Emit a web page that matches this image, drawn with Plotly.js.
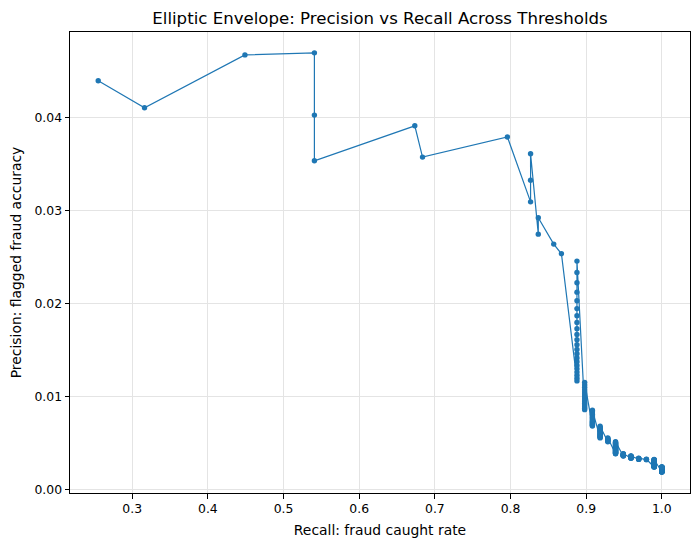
<!DOCTYPE html>
<html>
<head>
<meta charset="utf-8">
<script src="https://cdn.plot.ly/plotly-3.0.1.min.js"></script>
<style>
  html, body { margin: 0; padding: 0; background: #ffffff; }
  #chart { width: 700px; height: 547px; }
</style>
</head>
<body>
<div id="chart"></div>
<script>
// Recall levels reached by the detector (fraction of frauds caught).
const recallLevels = [
  0.2551, 0.3163, 0.4490, 0.5408, 0.6735, 0.6837, 0.7959, 0.8265,
  0.8367, 0.8571, 0.8673, 0.8878, 0.8980, 0.9082, 0.9184, 0.9286,
  0.9388, 0.9490, 0.9592, 0.9694, 0.9796, 0.9898, 1.0000
];

// Precision of every threshold that lands on each recall level, in plotting order.
const precisionAtLevel = [
  [0.04394],
  [0.04104],
  [0.04672],
  [0.04694, 0.04025, 0.03534],
  [0.03910],
  [0.03574],
  [0.03790],
  [0.03093, 0.03326, 0.03610],
  [0.02746, 0.02922],
  [0.02639],
  [0.02535],
  [0.011688, 0.011987, 0.012302, 0.012634, 0.012984, 0.013355, 0.013747, 0.014162,
   0.014604, 0.015074, 0.015576, 0.016112, 0.016686, 0.017303, 0.017966, 0.018683,
   0.019460, 0.020303, 0.021224, 0.022231, 0.023340, 0.024564],
  [0.008602, 0.008761, 0.008926, 0.009097, 0.009275, 0.009461, 0.009654, 0.009854,
   0.010064, 0.010282, 0.010510, 0.010749, 0.010999, 0.011260, 0.011534],
  [0.006837, 0.006936, 0.007038, 0.007143, 0.007251, 0.007362, 0.007477, 0.007596,
   0.007718, 0.007845, 0.007975, 0.008110, 0.008250, 0.008394, 0.008544],
  [0.005564, 0.005628, 0.005695, 0.005762, 0.005832, 0.005903, 0.005976, 0.006050,
   0.006127, 0.006205, 0.006286, 0.006368, 0.006453, 0.006540, 0.006630, 0.006722,
   0.006816],
  [0.005152, 0.005207, 0.005263, 0.005320, 0.005378, 0.005438, 0.005499, 0.005562],
  [0.003867, 0.003897, 0.003928, 0.003959, 0.003991, 0.004024, 0.004057, 0.004090,
   0.004124, 0.004159, 0.004194, 0.004230, 0.004266, 0.004303, 0.004341, 0.004380,
   0.004419, 0.004458, 0.004499, 0.004540, 0.004582, 0.004625, 0.004669, 0.004713,
   0.004758, 0.004804, 0.004852, 0.004900, 0.004948, 0.004998, 0.005049, 0.005101,
   0.005155],
  [0.003625, 0.003652, 0.003679, 0.003706, 0.003734, 0.003762, 0.003790, 0.003819,
   0.003848, 0.003878],
  [0.003371, 0.003394, 0.003417, 0.003440, 0.003464, 0.003488, 0.003512, 0.003536,
   0.003561, 0.003587, 0.003612, 0.003638],
  [0.003255, 0.003276, 0.003297, 0.003319, 0.003340, 0.003362, 0.003385],
  [0.003228, 0.003248, 0.003269],
  [0.002439, 0.002450, 0.002462, 0.002474, 0.002485, 0.002497, 0.002509, 0.002521,
   0.002534, 0.002546, 0.002558, 0.002571, 0.002584, 0.002597, 0.002610, 0.002623,
   0.002636, 0.002649, 0.002663, 0.002676, 0.002690, 0.002704, 0.002718, 0.002732,
   0.002747, 0.002761, 0.002776, 0.002791, 0.002806, 0.002821, 0.002836, 0.002852,
   0.002868, 0.002883, 0.002899, 0.002916, 0.002932, 0.002949, 0.002965, 0.002982,
   0.002999, 0.003017, 0.003034, 0.003052, 0.003070, 0.003088, 0.003106, 0.003125,
   0.003144, 0.003163, 0.003182, 0.003202, 0.003221, 0.003241],
  [0.001904, 0.001911, 0.001918, 0.001925, 0.001932, 0.001939, 0.001946, 0.001953,
   0.001960, 0.001968, 0.001975, 0.001982, 0.001990, 0.001997, 0.002005, 0.002013,
   0.002020, 0.002028, 0.002036, 0.002044, 0.002052, 0.002060, 0.002068, 0.002076,
   0.002084, 0.002093, 0.002101, 0.002109, 0.002118, 0.002126, 0.002135, 0.002144,
   0.002152, 0.002161, 0.002170, 0.002179, 0.002188, 0.002197, 0.002206, 0.002216,
   0.002225, 0.002234, 0.002244, 0.002253, 0.002263, 0.002273, 0.002283, 0.002293,
   0.002303, 0.002313, 0.002323, 0.002333, 0.002344, 0.002354, 0.002365, 0.002375,
   0.002386, 0.002397, 0.002408, 0.002419, 0.002430, 0.002441, 0.002453]
];

const xTickValues = [0.3, 0.4, 0.5, 0.6, 0.7, 0.8, 0.9, 1.0];
const yTickValues = [0.00, 0.01, 0.02, 0.03, 0.04];

const chartTitle = 'Elliptic Envelope: Precision vs Recall Across Thresholds';
const xLabel = 'Recall: fraud caught rate';
const yLabel = 'Precision: flagged fraud accuracy';

// Flatten the per-level lists into one ordered path.
const recall = [];
const precision = [];
recallLevels.forEach(function (r, i) {
  precisionAtLevel[i].forEach(function (p) {
    recall.push(r);
    precision.push(p);
  });
});

const blue = '#1f77b4';
const fontFamily = 'DejaVu Sans, sans-serif';

const trace = {
  x: recall,
  y: precision,
  type: 'scatter',
  mode: 'lines+markers',
  line: { color: blue, width: 1.2 },
  marker: { color: blue, size: 5.4, line: { width: 0 } },
  hoverinfo: 'x+y'
};

function axisStyle(extra) {
  return Object.assign({
    showline: true,
    mirror: true,
    linecolor: '#000000',
    linewidth: 1,
    ticks: 'outside',
    ticklen: 4.5,
    tickwidth: 1,
    tickcolor: '#000000',
    showgrid: true,
    gridcolor: '#e4e4e4',
    gridwidth: 1,
    zeroline: false,
    tickfont: { family: fontFamily, size: 12.4, color: '#000000' },
    automargin: false
  }, extra);
}

const layout = {
  width: 700,
  height: 547,
  paper_bgcolor: '#ffffff',
  plot_bgcolor: '#ffffff',
  margin: { l: 70.3, r: 9.7, t: 32.3, b: 53.7, pad: 0 },
  showlegend: false,
  font: { family: fontFamily, color: '#000000' },
  title: {
    text: chartTitle,
    font: { family: fontFamily, size: 16.6, color: '#000000' },
    xref: 'container',
    x: 380 / 700,
    xanchor: 'center',
    yref: 'container',
    y: 1 - 18 / 547,
    yanchor: 'middle'
  },
  xaxis: axisStyle({
    range: [0.2178, 1.0372],
    tickmode: 'array',
    tickvals: xTickValues,
    ticktext: xTickValues.map(function (v) { return v.toFixed(1); }),
    title: { text: xLabel, font: { family: fontFamily, size: 13.9, color: '#000000' }, standoff: 9 }
  }),
  yaxis: axisStyle({
    range: [-0.000355, 0.04918],
    tickmode: 'array',
    tickvals: yTickValues,
    ticktext: yTickValues.map(function (v) { return v.toFixed(2); }),
    title: { text: yLabel, font: { family: fontFamily, size: 13.9, color: '#000000' }, standoff: 9 }
  })
};

Plotly.newPlot('chart', [trace], layout, { displayModeBar: false, staticPlot: true });
</script>
</body>
</html>
